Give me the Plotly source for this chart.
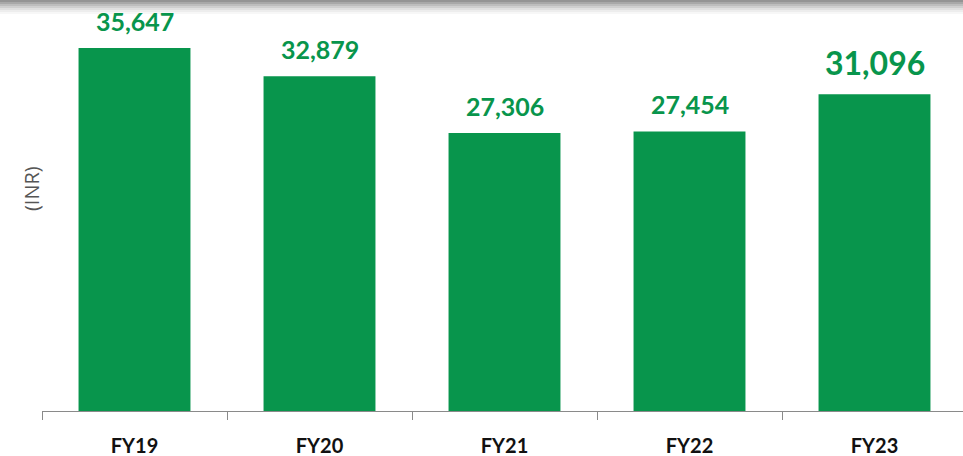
import plotly.graph_objects as go

categories = ["FY19", "FY20", "FY21", "FY22", "FY23"]
values = [35647, 32879, 27306, 27454, 31096]
label_sizes = [25, 25, 25, 25, 32]
y_title = "(INR)"

GREEN = "#08954C"
PLOT_W = 921
PLOT_H = 411

fig = go.Figure()
fig.add_trace(go.Bar(
    x=categories, y=values, marker=dict(color=GREEN, line=dict(width=0)),
    width=0.605, hoverinfo="skip",
))

for c, v, s in zip(categories, values, label_sizes):
    fig.add_annotation(
        x=c, y=v, text=f"<b>{v:,}</b>", showarrow=False, yanchor="bottom",
        yshift=10, font=dict(family="Lato, Open Sans, sans-serif", size=s, color=GREEN),
    )

fig.add_annotation(
    xref="paper", yref="paper", x=-11 / PLOT_W, y=0.54, text=y_title, textangle=-90,
    showarrow=False, xanchor="center", yanchor="middle",
    font=dict(family="Open Sans, sans-serif", size=20, color="#555555"),
)

# top shadow band
for i, op in enumerate([0.42, 0.34, 0.26, 0.19, 0.12, 0.07, 0.03]):
    fig.add_shape(type="rect", xref="paper", yref="paper", x0=-42 / PLOT_W, x1=1,
                  y0=1 - (i + 1) * 2 / PLOT_H, y1=1 - i * 2 / PLOT_H,
                  fillcolor="black", opacity=op, line=dict(width=0), layer="above")

fig.update_layout(
    width=963, height=456,
    margin=dict(l=42, r=0, t=0, b=45),
    paper_bgcolor="white", plot_bgcolor="white",
    showlegend=False,
    xaxis=dict(
        automargin=False,
        range=[-0.5, -0.5 + PLOT_W / 185],
        showline=True, linecolor="#8a8a8a", linewidth=1,
        ticks="outside", tickson="boundaries", ticklen=8, tickcolor="#8a8a8a",
        ticklabelstandoff=17,
        tickfont=dict(family="Lato, Open Sans, sans-serif", size=20, color="#111111"),
        tickprefix="<b>", ticksuffix="</b>",
    ),
    yaxis=dict(
        automargin=False,
        range=[0, 40360], showgrid=False, showticklabels=False, zeroline=False,
        showline=False,
    ),
)

fig.write_html(
    "out.html",
    config={"displayModeBar": False, "staticPlot": True},
    post_script="document.body.style.margin='0';document.body.style.overflow='hidden';",
)
